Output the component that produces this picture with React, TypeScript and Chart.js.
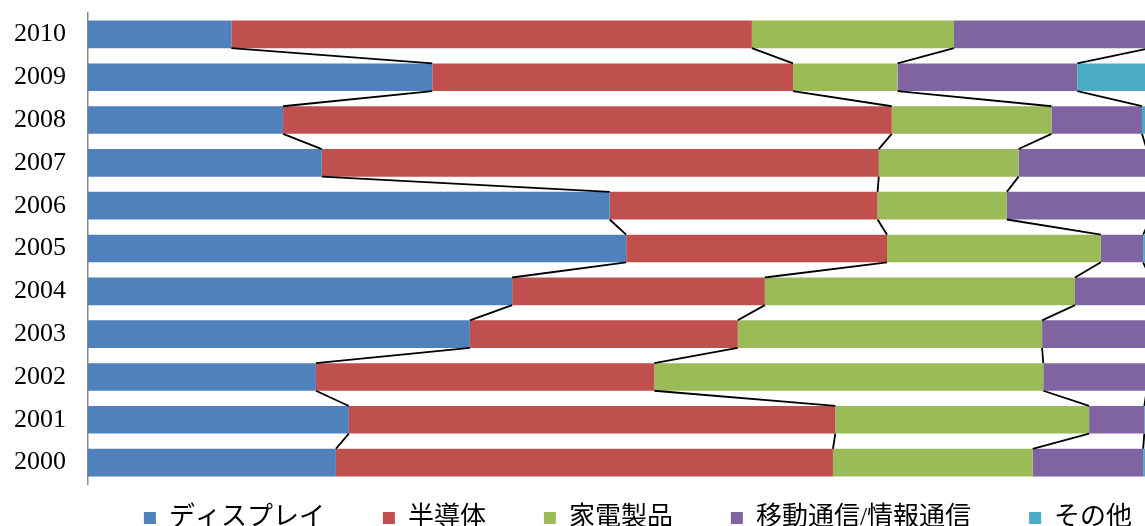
import React, { useEffect, useRef } from 'react';
import { Chart, registerables } from 'chart.js';

Chart.register(...registerables);

// Categories (chronological; axis is reversed so 2010 is on top)
const years = ['2000', '2001', '2002', '2003', '2004', '2005', '2006', '2007', '2008', '2009', '2010'];

// Series names
const seriesNames = ['ディスプレイ', '半導体', '家電製品', '移動通信/情報通信', 'その他'];

// Shares (%) per year, 2000 → 2010
const displayShare = [21.1, 22.2, 19.4, 32.5, 36.1, 45.8, 44.4, 19.9, 16.6, 29.3, 12.2];
const semiconductorShare = [42.3, 41.4, 28.8, 22.8, 21.5, 22.2, 22.8, 47.4, 51.8, 30.7, 44.3];
const appliancesShare = [17.0, 21.6, 33.1, 25.9, 26.4, 18.2, 11.0, 11.9, 13.6, 8.9, 17.2];
const mobileShare = [9.4, 4.7, 8.8, 9.2, 6.4, 3.6, 12.2, 10.9, 7.7, 15.3, 16.7];
const otherShare = [10.2, 10.1, 9.9, 9.6, 9.6, 10.2, 9.6, 9.9, 10.3, 15.8, 9.6];

const seriesValues = [displayShare, semiconductorShare, appliancesShare, mobileShare, otherShare];
const seriesColors = ['#4F81BD', '#C0504D', '#9BBB59', '#8064A2', '#4BACC6'];

const FONT = "'Liberation Serif', 'Noto Sans CJK JP', serif";
const LEGEND_SHIFT = 37;

const seriesLinesPlugin = {
  id: 'seriesLines',
  afterDatasetsDraw(chart: any) {
    const ctx = chart.ctx;
    ctx.save();
    ctx.strokeStyle = '#000000';
    ctx.lineWidth = 1.8;
    const n = chart.data.datasets.length;
    for (let d = 0; d < n - 1; d++) {
      const meta = chart.getDatasetMeta(d);
      for (let j = 0; j < meta.data.length - 1; j++) {
        const a = meta.data[j].getProps(['x', 'y', 'height'], true);
        const b = meta.data[j + 1].getProps(['x', 'y', 'height'], true);
        const upper = a.y < b.y ? a : b;
        const lower = a.y < b.y ? b : a;
        ctx.beginPath();
        ctx.moveTo(upper.x, upper.y + upper.height / 2);
        ctx.lineTo(lower.x, lower.y - lower.height / 2);
        ctx.stroke();
      }
    }
    ctx.restore();
  },
};

const legendShiftPlugin = {
  id: 'legendShift',
  afterLayout(chart: any) {
    const lg = chart.legend;
    if (lg) {
      lg.top -= LEGEND_SHIFT;
      lg.bottom -= LEGEND_SHIFT;
    }
  },
};

export default function App() {
  const canvasRef = useRef<HTMLCanvasElement | null>(null);

  useEffect(() => {
    if (!canvasRef.current) return;
    const chart = new Chart(canvasRef.current, {
      type: 'bar',
      data: {
        labels: years,
        datasets: seriesNames.map((name, i) => ({
          label: name,
          data: seriesValues[i],
          backgroundColor: seriesColors[i],
          borderWidth: 0,
          barPercentage: 0.645,
          categoryPercentage: 1,
        })),
      },
      options: {
        indexAxis: 'y',
        responsive: false,
        animation: false,
        devicePixelRatio: 1,
        layout: { padding: { left: 13, top: 13, right: 0, bottom: 0 } },
        plugins: {
          legend: {
            position: 'bottom',
            labels: {
              boxWidth: 12,
              boxHeight: 12,
              padding: 58,
              color: '#000000',
              font: { family: FONT, size: 26 },
            },
          },
          tooltip: { enabled: false },
        },
        scales: {
          x: { stacked: true, min: 0, max: 100, display: false },
          y: {
            stacked: true,
            reverse: true,
            grid: { display: false, drawTicks: false },
            border: { display: true, color: '#8C8C8C', width: 1.5 },
            ticks: { color: '#000000', padding: 22, font: { family: FONT, size: 26 } },
            afterFit: (s: any) => {
              s.width = 75;
              s.paddingTop = 0;
              s.paddingBottom = 0;
            },
          },
        },
      } as any,
      plugins: [seriesLinesPlugin, legendShiftPlugin],
    });
    return () => chart.destroy();
  }, []);

  return (
    <div style={{ position: 'fixed', left: 0, top: 0, width: 1145, height: 526, overflow: 'hidden', background: '#fff' }}>
      <canvas ref={canvasRef} width={1263} height={578} style={{ display: 'block' }} />
    </div>
  );
}
